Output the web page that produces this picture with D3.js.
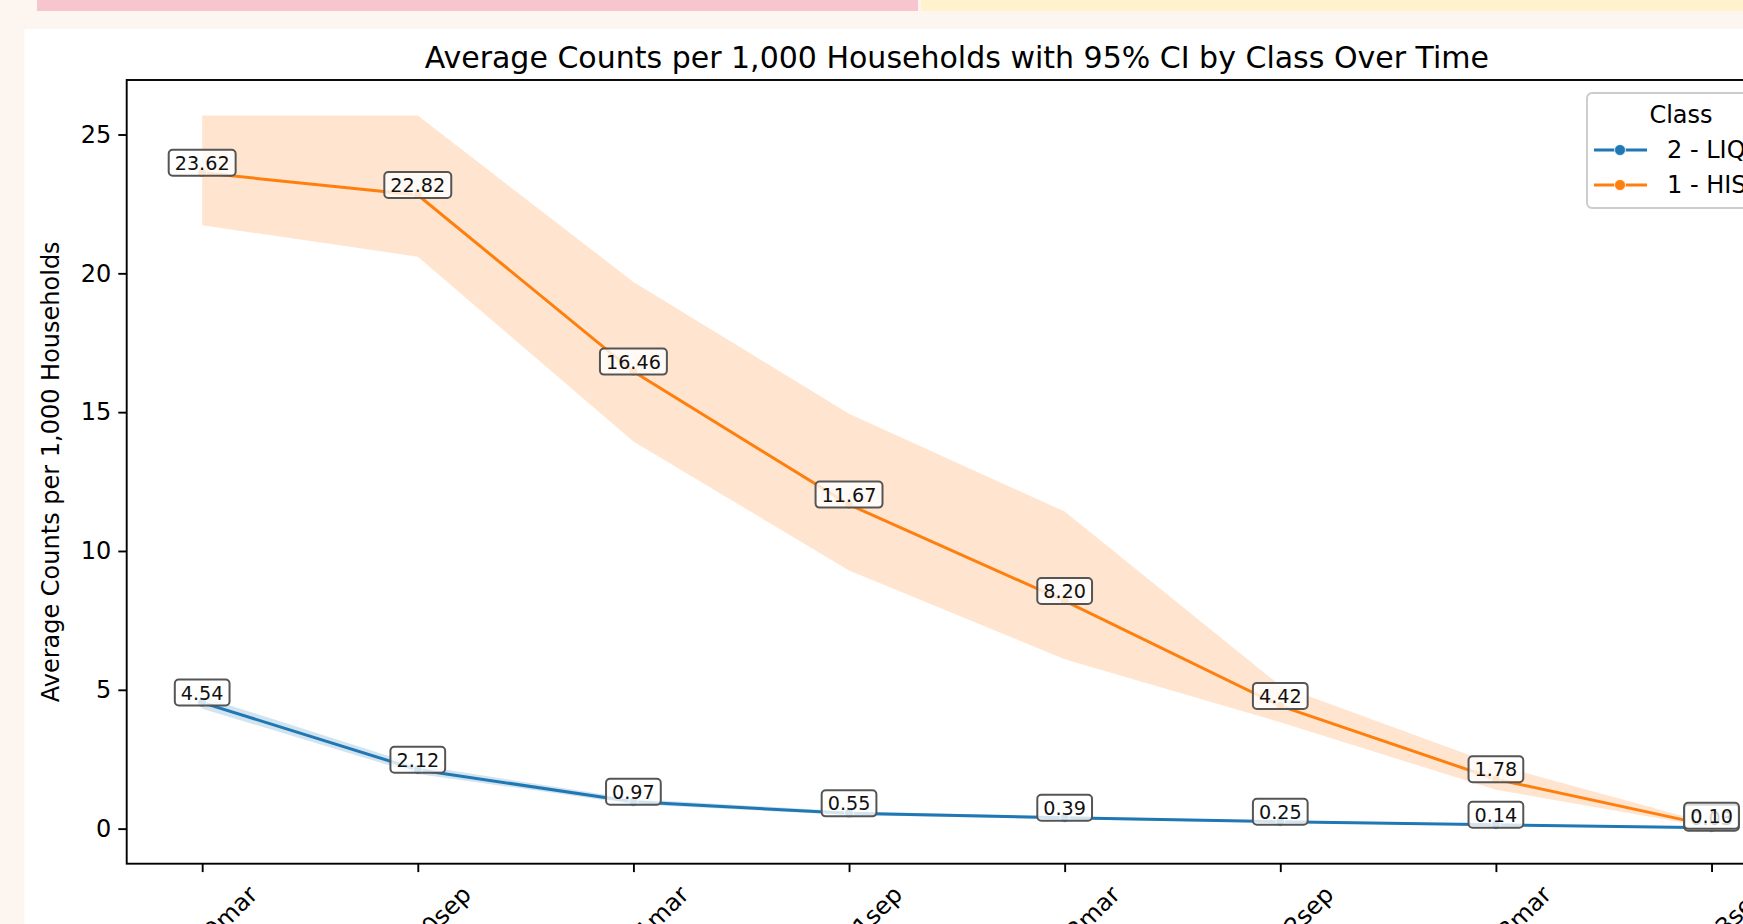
<!DOCTYPE html>
<html>
<head>
<meta charset="utf-8">
<script src="https://cdn.jsdelivr.net/npm/d3@7"></script>
<style>
    html, body { margin: 0; padding: 0; overflow: hidden; background: #fdf5ef; }
    svg { display: block; font-family: "DejaVu Sans", sans-serif; }
</style>
</head>
<body>
<svg id="chart"></svg>
<script>
// data
var periods = ["2020mar", "2020sep", "2021mar", "2021sep", "2022mar", "2022sep", "2023mar", "2023sep"];
var classNames = ["2 - LIQD", "1 - HIST"];
var classColors = ["#1f77b4", "#ff7f0e"];

var liqMean = [4.54, 2.12, 0.97, 0.55, 0.39, 0.25, 0.14, 0.03];
var liqLow  = [4.32, 1.97, 0.88, 0.49, 0.34, 0.21, 0.11, 0.02];
var liqHigh = [4.76, 2.28, 1.07, 0.62, 0.44, 0.29, 0.17, 0.05];

var hisMean = [23.62, 22.82, 16.46, 11.67, 8.20, 4.42, 1.78, 0.10];
var hisLow  = [21.73, 20.60, 13.94, 9.30, 6.10, 3.83, 1.40, 0.04];
var hisHigh = [25.68, 25.68, 19.69, 14.94, 11.42, 5.15, 2.30, 0.18];

var yTicks = [0, 5, 10, 15, 20, 25];

var W = 1743, H = 924;
var plot = { left: 126.7, top: 80, right: 1787, bottom: 863.7 };

var svg = d3.select("#chart").attr("width", W).attr("height", H);

// page bits around the figure
svg.append("rect").attr("x", 37).attr("y", 0).attr("width", 881).attr("height", 11).attr("fill", "#f6c5cd");
svg.append("rect").attr("x", 921).attr("y", 0).attr("width", W - 921).attr("height", 11).attr("fill", "#fff2cc");
svg.append("rect").attr("x", 24.5).attr("y", 29).attr("width", W).attr("height", H).attr("fill", "#ffffff");

var series = [
    { name: classNames[0], color: classColors[0], mean: liqMean, low: liqLow, high: liqHigh },
    { name: classNames[1], color: classColors[1], mean: hisMean, low: hisLow, high: hisHigh }
];

// scales, 5% margins like matplotlib
var x = d3.scalePoint().domain(periods).range([plot.left, plot.right]).padding(0.35);
var yMin = d3.min(series, function (s) { return d3.min(s.low); });
var yMax = d3.max(series, function (s) { return d3.max(s.high); });
var yPad = (yMax - yMin) * 0.05;
var y = d3.scaleLinear().domain([yMin - yPad, yMax + yPad]).range([plot.bottom, plot.top]);

var g = svg.append("g");

// confidence bands
var band = d3.area()
    .x(function (d) { return x(d.p); })
    .y0(function (d) { return y(d.lo); })
    .y1(function (d) { return y(d.hi); });

series.forEach(function (s) {
    var rows = periods.map(function (p, i) { return { p: p, lo: s.low[i], hi: s.high[i] }; });
    g.append("path").attr("d", band(rows)).attr("fill", s.color).attr("fill-opacity", 0.2);
});

// lines and markers
var line = d3.line()
    .x(function (d) { return x(d.p); })
    .y(function (d) { return y(d.v); });

series.forEach(function (s) {
    var rows = periods.map(function (p, i) { return { p: p, v: s.mean[i] }; });
    g.append("path").attr("d", line(rows)).attr("fill", "none")
        .attr("stroke", s.color).attr("stroke-width", 3);
    g.selectAll(null).data(rows).enter().append("circle")
        .attr("cx", function (d) { return x(d.p); })
        .attr("cy", function (d) { return y(d.v); })
        .attr("r", 4.5)
        .attr("fill", s.color)
        .attr("stroke", "#fff").attr("stroke-width", 0.8);
});

// value labels in boxes
series.forEach(function (s) {
    periods.forEach(function (p, i) {
        var cx = x(p), cy = y(s.mean[i]) - 10;
        var lab = g.append("g").attr("transform", "translate(" + cx + "," + cy + ")");
        var box = lab.append("rect");
        var t = lab.append("text")
            .attr("text-anchor", "middle").attr("dy", "0.36em")
            .attr("font-size", 19.2).attr("fill", "#111")
            .text(s.mean[i].toFixed(2));
        var w = t.node().getComputedTextLength() + 12;
        box.attr("x", -w / 2).attr("y", -13).attr("width", w).attr("height", 26)
            .attr("rx", 4).attr("fill", "#fff").attr("fill-opacity", 0.8)
            .attr("stroke", "#555").attr("stroke-width", 2);
    });
});

// axes
var yAxis = svg.append("g")
    .attr("transform", "translate(" + plot.left + ",0)")
    .call(d3.axisLeft(y).tickValues(yTicks).tickSize(8.4).tickSizeOuter(0).tickPadding(7));
yAxis.select(".domain").remove();
yAxis.selectAll("line").attr("stroke", "#000").attr("stroke-width", 1.9);
yAxis.selectAll("text").attr("font-size", 24).attr("fill", "#000")
    .attr("font-family", "DejaVu Sans, sans-serif");

// rotated period labels, centred under the tick like matplotlib
var xAxis = svg.append("g")
    .attr("transform", "translate(0," + plot.bottom + ")")
    .call(d3.axisBottom(x).tickSize(8.4).tickSizeOuter(0));
xAxis.select(".domain").remove();
xAxis.selectAll("line").attr("stroke", "#000").attr("stroke-width", 1.9);
xAxis.selectAll("text")
    .attr("font-size", 24).attr("fill", "#000")
    .attr("font-family", "DejaVu Sans, sans-serif")
    .attr("text-anchor", "middle").attr("dominant-baseline", "central")
    .attr("x", 0).attr("y", 0).attr("dy", null)
    .attr("transform", function () {
        var L = this.getComputedTextLength();
        var side = (L + 24 * 1.16) * Math.SQRT1_2;
        return "translate(12," + (16.8 + side / 2) + ") rotate(-45)";
    });

// frame
svg.append("rect")
    .attr("x", plot.left).attr("y", plot.top)
    .attr("width", plot.right - plot.left).attr("height", plot.bottom - plot.top)
    .attr("fill", "none").attr("stroke", "#000").attr("stroke-width", 1.9);

// title and y label
svg.append("text")
    .attr("x", (plot.left + plot.right) / 2).attr("y", 68)
    .attr("text-anchor", "middle").attr("font-size", 30).attr("fill", "#000")
    .text("Average Counts per 1,000 Households with 95% CI by Class Over Time");

svg.append("text")
    .attr("transform", "translate(51," + ((plot.top + plot.bottom) / 2) + ") rotate(-90)")
    .attr("text-anchor", "middle").attr("dominant-baseline", "central")
    .attr("font-size", 24).attr("fill", "#000")
    .text("Average Counts per 1,000 Households");

// legend
var legend = svg.append("g").attr("transform", "translate(1587,93)");
legend.append("rect")
    .attr("width", 188).attr("height", 115).attr("rx", 5)
    .attr("fill", "#fff").attr("fill-opacity", 0.8)
    .attr("stroke", "#cccccc").attr("stroke-width", 1.9);
legend.append("text")
    .attr("x", 94).attr("y", 22).attr("dominant-baseline", "central")
    .attr("text-anchor", "middle").attr("font-size", 24).attr("fill", "#000")
    .text("Class");
series.forEach(function (s, i) {
    var row = legend.append("g").attr("transform", "translate(0," + (57 + i * 35) + ")");
    row.append("line").attr("x1", 7).attr("x2", 60).attr("y1", 0).attr("y2", 0)
        .attr("stroke", s.color).attr("stroke-width", 3);
    row.append("circle").attr("cx", 33).attr("cy", 0).attr("r", 5.5)
        .attr("fill", s.color).attr("stroke", "#fff").attr("stroke-width", 0.8);
    row.append("text").attr("x", 80).attr("y", 0).attr("dominant-baseline", "central")
        .attr("font-size", 24).attr("fill", "#000").text(s.name);
});
</script>
</body>
</html>
